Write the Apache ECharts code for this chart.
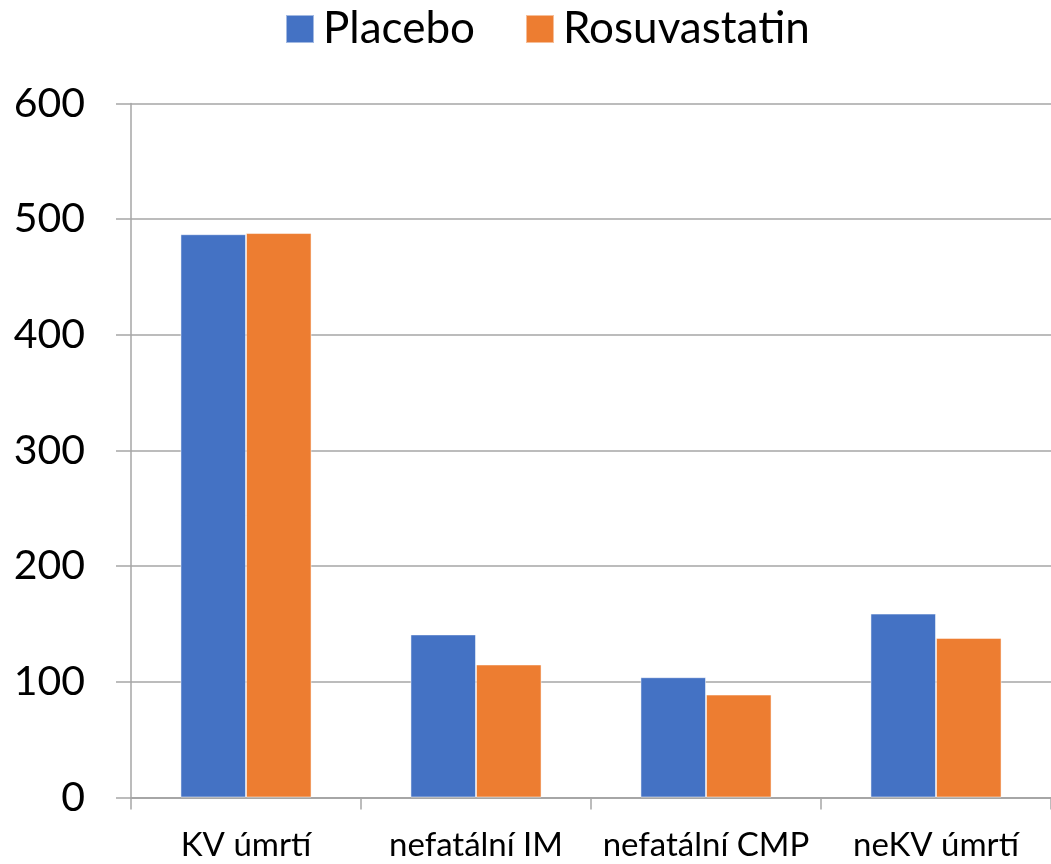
<!DOCTYPE html>
<html>
<head>
<meta charset="utf-8">
<script src="https://cdn.jsdelivr.net/npm/echarts@6/dist/echarts.min.js"></script>
<style>html,body{margin:0;padding:0;background:#fff}#c{width:1051px;height:864px}</style>
</head>
<body>
<div id="c"></div>
<script>
const categories = ['KV úmrtí', 'nefatální IM', 'nefatální CMP', 'neKV úmrtí'];
const placebo = [487, 141, 104, 159];
const rosuvastatin = [488, 115, 89, 138];
const seriesNames = ['Placebo', 'Rosuvastatin'];
const yTicks = { min: 0, max: 600, interval: 100 };

const FONT = 'Lato';
const chart = echarts.init(document.getElementById('c'), null, { renderer: 'canvas' });
chart.setOption({
  animation: false,
  backgroundColor: '#ffffff',
  textStyle: { fontFamily: FONT },
  legend: {
    top: 2,
    left: 280,
    itemWidth: 28,
    itemHeight: 28,
    itemGap: 50,
    icon: 'rect',
    textStyle: { fontSize: 44, color: '#000', fontFamily: FONT, padding: [0, 0, 0, 4] },
    data: seriesNames
  },
  grid: { left: 131, top: 103.5, width: 927, height: 694, containLabel: false },
  xAxis: {
    type: 'category',
    data: categories,
    axisLine: { show: true, lineStyle: { color: '#a6a6a6', width: 2 } },
    axisTick: { show: true, alignWithLabel: false, length: 12, lineStyle: { color: '#a6a6a6', width: 1.5 } },
    axisLabel: { fontSize: 33, color: '#000', fontFamily: FONT, margin: 31, interval: 0 }
  },
  yAxis: {
    type: 'value',
    min: yTicks.min,
    max: yTicks.max,
    interval: yTicks.interval,
    axisLine: { show: true, lineStyle: { color: '#a6a6a6', width: 1.5 } },
    axisTick: { show: true, inside: false, length: 15, lineStyle: { color: '#a6a6a6', width: 1.5 } },
    axisLabel: { fontSize: 41, color: '#000', fontFamily: FONT, margin: 46 },
    splitLine: { show: true, lineStyle: { color: '#a6a6a6', width: 1.5 } }
  },
  series: [
    {
      name: seriesNames[0], type: 'bar', data: placebo,
      barGap: '0%', barCategoryGap: '43%',
      itemStyle: { color: '#4472C4', borderColor: 'rgba(255,255,255,0.5)', borderWidth: 1 }
    },
    {
      name: seriesNames[1], type: 'bar', data: rosuvastatin,
      barGap: '0%', barCategoryGap: '43%',
      itemStyle: { color: '#ED7D31', borderColor: 'rgba(255,255,255,0.5)', borderWidth: 1 }
    }
  ]
});
</script>
</body>
</html>
